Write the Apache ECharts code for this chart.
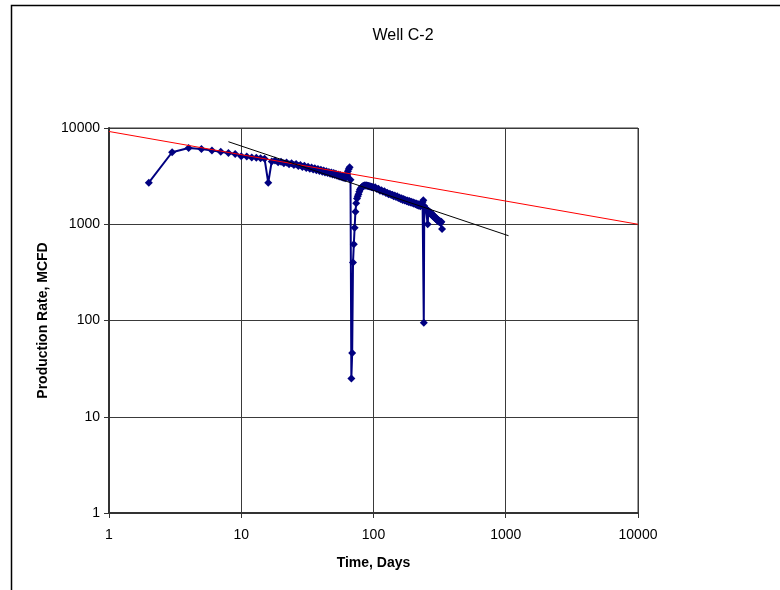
<!DOCTYPE html>
<html>
<head>
<meta charset="utf-8">
<script src="https://cdn.jsdelivr.net/npm/echarts@6/dist/echarts.min.js"></script>
<style>
  html, body { margin: 0; padding: 0; background: #fff; }
  #chart { width: 780px; height: 590px; }
</style>
</head>
<body>
<div id="chart"></div>
<script>
// Daily production history of well C-2 (time in days, rate in MCFD)
const days = [
  2, 3, 4, 5, 6, 7, 8, 9, 10,
  11, 12, 13, 14, 15, 16, 17, 18, 19, 20,
  21, 22, 23, 24, 25, 26, 27, 28, 29, 30,
  31, 32, 33, 34, 35, 36, 37, 38, 39, 40,
  41, 42, 43, 44, 45, 46, 47, 48, 49, 50,
  51, 52, 53, 54, 55, 56, 57, 58, 59, 60,
  61, 62, 63, 64, 65, 66, 67, 68, 69, 70,
  71, 72, 73, 74, 75, 76, 77, 78, 79, 80,
  81, 82, 83, 84, 85, 86, 87, 88, 89, 90,
  91, 92, 93, 94, 95, 96, 97, 98, 99, 100,
  103, 106, 109, 112, 115, 118, 121, 124, 127, 130,
  133, 136, 139, 142, 145, 148, 151, 154, 157, 160,
  163, 166, 169, 172, 175, 178, 181, 184, 187, 190,
  193, 196, 199, 202, 205, 208, 211, 214, 217, 220,
  223, 226, 229, 232, 235, 238, 240, 242, 245, 248,
  251, 254, 257, 260, 263, 266, 269, 272, 275, 278,
  281, 284, 287, 290, 293, 296, 299, 302, 305, 308,
  311, 314, 317, 320, 323, 326, 330
];
const rates = [
  2700, 5600, 6200, 6050, 5850, 5650, 5500, 5380, 5100,
  5050, 4950, 4900, 4850, 4800, 2700, 4500, 4600, 4400, 4450,
  4300, 4380, 4200, 4300, 4120, 4220, 4020, 4120, 3930, 4050,
  3850, 3960, 3780, 3880, 3700, 3820, 3640, 3750, 3580, 3680,
  3510, 3620, 3450, 3560, 3400, 3500, 3340, 3450, 3290, 3400,
  3240, 3340, 3190, 3290, 3140, 3240, 3090, 3190, 3040, 3140,
  3000, 3100, 3300, 3550, 3750, 3900, 2900, 25, 46, 400,
  620, 920, 1350, 1650, 1850, 1950, 2050, 2180, 2280, 2350,
  2400, 2450, 2480, 2500, 2520, 2530, 2530, 2520, 2520, 2510,
  2500, 2500, 2480, 2470, 2460, 2450, 2440, 2430, 2420, 2400,
  2420, 2330, 2340, 2230, 2260, 2170, 2200, 2110, 2130, 2050,
  2080, 2010, 2030, 1950, 1990, 1920, 1950, 1870, 1900, 1830,
  1860, 1790, 1830, 1760, 1790, 1730, 1770, 1700, 1740, 1680,
  1710, 1660, 1690, 1630, 1660, 1610, 1640, 1580, 1620, 1560,
  1590, 1540, 1570, 1600, 1700, 1780, 95, 1550, 1480, 1450,
  1420, 1400, 1000, 1380, 1340, 1350, 1290, 1310, 1250, 1270,
  1210, 1240, 1180, 1200, 1150, 1170, 1120, 1140, 1090, 1110,
  1070, 1090, 1050, 1070, 1040, 1060, 890
];

// Straight-line decline fits on the log-log plot (endpoints)
const fitRedDays = [1, 10000];
const fitRedRates = [9200, 1000];
const fitBlackDays = [8, 1050];
const fitBlackRates = [7200, 760];

const xTicks = [1, 10, 100, 1000, 10000];
const yTicks = [1, 10, 100, 1000, 10000];

const zip = (xs, ys) => xs.map((x, i) => [x, ys[i]]);

const chart = echarts.init(document.getElementById('chart'), null, { renderer: 'canvas' });
const FONT = 'Liberation Sans, Arial, sans-serif';
const gridColor = '#3a3a3a';

chart.setOption({
  animation: false,
  backgroundColor: '#fff',
  textStyle: { fontFamily: FONT },
  title: {
    text: 'Well C-2',
    left: 398,
    top: 23,
    textAlign: 'center',
    textStyle: { fontFamily: FONT, fontSize: 16, fontWeight: 'normal', color: '#000' }
  },
  graphic: [{
    type: 'rect',
    shape: { x: 11.5, y: 5.5, width: 900, height: 700 },
    style: { fill: null, stroke: '#000', lineWidth: 1.5 },
    silent: true,
    z: 100
  }],
  grid: {
    left: 109, top: 128, width: 529, height: 385,
    show: true, borderColor: gridColor, borderWidth: 1
  },
  xAxis: {
    type: 'log', logBase: 10, min: xTicks[0], max: xTicks[xTicks.length - 1],
    name: 'Time, Days', nameLocation: 'middle', nameGap: 43,
    nameTextStyle: { fontFamily: FONT, fontSize: 14, fontWeight: 'bold', color: '#000' },
    axisLine: { lineStyle: { color: '#333', width: 2 } },
    axisTick: { show: true, inside: false, length: 5, lineStyle: { color: '#333' } },
    axisLabel: { fontFamily: FONT, fontSize: 14, color: '#000', margin: 15, formatter: v => String(Math.round(v)) },
    splitLine: { show: true, lineStyle: { color: gridColor, width: 1 } },
    minorTick: { show: false }
  },
  yAxis: {
    type: 'log', logBase: 10, min: yTicks[0], max: yTicks[yTicks.length - 1],
    name: 'Production Rate, MCFD', nameLocation: 'middle', nameGap: 58, nameRotate: 90,
    nameTextStyle: { fontFamily: FONT, fontSize: 14, fontWeight: 'bold', color: '#000' },
    axisLine: { lineStyle: { color: '#333', width: 2 } },
    axisTick: { show: true, inside: false, length: 5, lineStyle: { color: '#333' } },
    axisLabel: { fontFamily: FONT, fontSize: 14, color: '#000', margin: 9, formatter: v => String(Math.round(v)) },
    splitLine: { show: true, lineStyle: { color: gridColor, width: 1 } }
  },
  series: [
    {
      name: 'Rate',
      type: 'line',
      data: zip(days, rates),
      symbol: 'diamond',
      symbolSize: 8,
      itemStyle: { color: '#000080' },
      lineStyle: { color: '#000080', width: 2 },
      z: 2
    },
    {
      name: 'Fit 1',
      type: 'line',
      data: zip(fitRedDays, fitRedRates),
      symbol: 'none',
      lineStyle: { color: '#ff0000', width: 1 },
      z: 3
    },
    {
      name: 'Fit 2',
      type: 'line',
      data: zip(fitBlackDays, fitBlackRates),
      symbol: 'none',
      lineStyle: { color: '#000000', width: 1 },
      z: 3
    }
  ]
});
</script>
</body>
</html>
